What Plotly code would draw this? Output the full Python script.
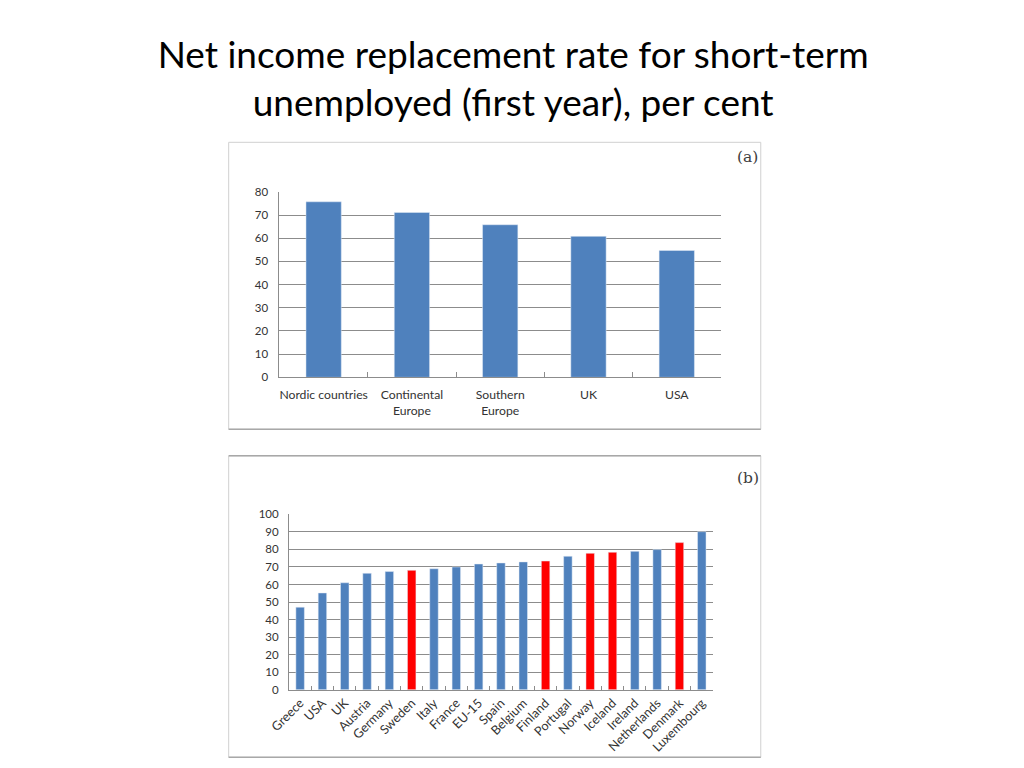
import plotly.graph_objects as go

# Panel (a): country groups
groups = ["Nordic countries", "Continental<br>Europe", "Southern<br>Europe", "UK", "USA"]
group_rates = [75.7, 71.1, 65.8, 60.8, 54.7]

# Panel (b): individual countries (Nordic ones highlighted in red)
countries = ["Greece", "USA", "UK", "Austria", "Germany", "Sweden", "Italy", "France",
             "EU-15", "Spain", "Belgium", "Finland", "Portugal", "Norway", "Iceland",
             "Ireland", "Netherlands", "Denmark", "Luxembourg"]
country_rates = [47.1, 55.2, 61.0, 66.4, 67.4, 68.1, 69.0, 70.0, 71.7, 72.3, 72.9,
                 73.4, 76.1, 77.8, 78.4, 78.9, 79.9, 83.9, 90.1]
nordic = ["Sweden", "Finland", "Norway", "Iceland", "Denmark"]

BLUE = "#4F81BD"
RED = "#FF0000"
GRID = "#8C8C8C"
FONT = "Lato, Open Sans, sans-serif"

W, H = 1024, 768


# the page is photographed slightly scaled/offset, so map screen pixels to paper
def sx(t):
    return (100 + (t - 123) / 0.984) / W


def sy(t):
    return 1 - (100 + (t - 113) / 0.983) / H


fig = go.Figure()

fig.add_trace(go.Bar(
    x=groups, y=group_rates, marker_color=BLUE, width=0.4,
    xaxis="x", yaxis="y", showlegend=False,
))

fig.add_trace(go.Bar(
    x=countries, y=country_rates,
    marker_color=[RED if c in nordic else BLUE for c in countries],
    width=0.38, xaxis="x2", yaxis="y2", showlegend=False,
))

axis_common = dict(showline=True, linecolor=GRID, linewidth=1, fixedrange=True)
ytick_font = dict(family=FONT, size=11.5, color="#333333")

fig.update_layout(
    width=W, height=H, autosize=False,
    margin=dict(l=0, r=0, t=0, b=0),
    paper_bgcolor="white", plot_bgcolor="white",
    title=dict(
        text="Net income replacement rate for short-term<br>unemployed (first year), per cent",
        x=0.4832, xanchor="center", xref="paper",
        y=sy(67.5), yanchor="middle", yref="paper",
        font=dict(family=FONT, size=37, color="#000000"),
    ),
    xaxis=dict(domain=[sx(277), sx(720)], anchor="y", type="category",
               ticks="inside", tickson="boundaries", ticklen=5, tickcolor=GRID,
               tickangle=0, ticklabelstandoff=6, showgrid=False,
               tickfont=dict(family=FONT, size=12.2, color="#333333"), **axis_common),
    yaxis=dict(domain=[sy(377), sy(191.5)], anchor="x", range=[0, 80], dtick=10,
               showgrid=True, gridcolor=GRID, gridwidth=1, ticks="",
               ticklabelstandoff=8, zeroline=False, tickfont=ytick_font, **axis_common),
    xaxis2=dict(domain=[sx(286.5), sx(712)], anchor="y2", type="category",
                ticks="inside", tickson="boundaries", ticklen=4, tickcolor=GRID,
                tickangle=-45, showgrid=False,
                tickfont=dict(family=FONT, size=12.6, color="#333333"), **axis_common),
    yaxis2=dict(domain=[sy(689.5), sy(514)], anchor="x2", range=[0, 100], dtick=10,
                showgrid=True, gridcolor=GRID, gridwidth=1, ticks="",
                ticklabelstandoff=7, zeroline=False, tickfont=ytick_font, **axis_common),
    shapes=[
        dict(type="rect", xref="paper", yref="paper",
             x0=sx(226), x1=sx(760), y0=sy(429), y1=sy(142),
             line=dict(color="#D0D0D0", width=1)),
        dict(type="line", xref="paper", yref="paper",
             x0=sx(226), x1=sx(760), y0=sy(429), y1=sy(429),
             line=dict(color="#A8A8A8", width=1.5)),
        dict(type="rect", xref="paper", yref="paper",
             x0=sx(226), x1=sx(760), y0=sy(757), y1=sy(455.5),
             line=dict(color="#D0D0D0", width=1)),
        dict(type="line", xref="paper", yref="paper",
             x0=sx(226), x1=sx(760), y0=sy(455.5), y1=sy(455.5),
             line=dict(color="#A8A8A8", width=1.5)),
        dict(type="line", xref="paper", yref="paper",
             x0=sx(226), x1=sx(760), y0=sy(757), y1=sy(757),
             line=dict(color="#A8A8A8", width=1.5)),
    ],
    annotations=[
        dict(text="(a)", xref="paper", yref="paper", x=sx(747), y=sy(157),
             showarrow=False, xanchor="center", yanchor="middle",
             font=dict(family="DejaVu Serif, serif", size=15.5, color="#404040")),
        dict(text="(b)", xref="paper", yref="paper", x=sx(747), y=sy(478),
             showarrow=False, xanchor="center", yanchor="middle",
             font=dict(family="DejaVu Serif, serif", size=15.5, color="#404040")),
    ],
)

fig.write_html("out.html")
